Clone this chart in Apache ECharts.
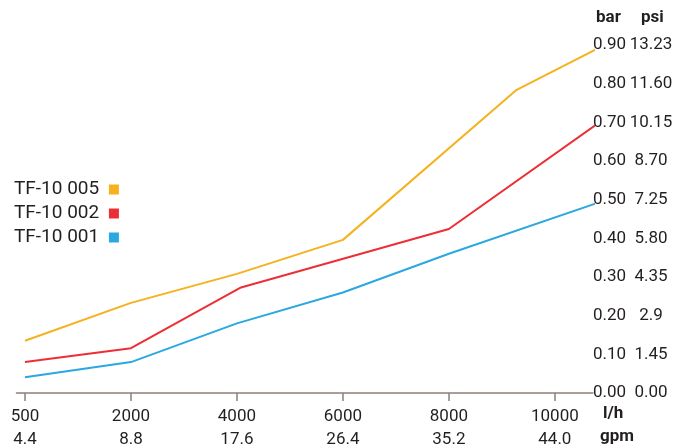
<!DOCTYPE html>
<html><head><meta charset="utf-8">
<script src="https://cdn.jsdelivr.net/npm/echarts@6/dist/echarts.min.js"></script>
<style>html,body{margin:0;padding:0;background:#fff}#c{width:675px;height:446px}</style>
</head><body><div id="c"></div>
<script>
// X tick labels (equally spaced ticks, index positions 0..5)
const tickLh = ['500', '2000', '4000', '6000', '8000', '10000'];
const tickGpm = ['4.4', '8.8', '17.6', '26.4', '35.2', '44.0'];
// Y tick labels
const barLabels = ['0.00','0.10','0.20','0.30','0.40','0.50','0.60','0.70','0.80','0.90'];
const psiLabels = ['0.00','1.45','2.9','4.35','5.80','7.25','8.70','10.15','11.60','13.23'];
// Series (x in tick-index units, y in bar)
const names = ['TF-10 005', 'TF-10 002', 'TF-10 001'];
const x005 = [0, 1, 2, 3, 4.64, 5.47];
const y005 = [0.135, 0.233, 0.308, 0.396, 0.784, 0.90];
const x002 = [0, 1, 2.03, 4.0, 5.42];
const y002 = [0.08, 0.116, 0.272, 0.424, 0.70];
const x001 = [0, 1, 2, 3, 4, 5.49];
const y001 = [0.041, 0.08, 0.18, 0.26, 0.36, 0.50];
const colors = ['#F5B21E', '#EC2F35', '#2AA8E0'];

const zip = (xs, ys) => xs.map((x, i) => [x, ys[i]]);
const FONT = 'Roboto';
const TXT = '#231f20';

const chart = echarts.init(document.getElementById('c'));
chart.setOption({
  animation: false,
  backgroundColor: '#fff',
  grid: { left: 16.5, right: 82, top: 45, bottom: 53, containLabel: false, outerBoundsMode: 'none' },
  legend: {
    orient: 'vertical', left: 14, top: 180, align: 'right',
    itemWidth: 10, itemHeight: 10, itemGap: 5, icon: 'rect', padding: 0,
    data: names,
    formatter: n => n + ' ',
    textStyle: { fontFamily: FONT, fontSize: 19, color: TXT, width: 95, align: 'right' }
  },
  xAxis: {
    type: 'value', min: -0.08, max: 5.36,
    axisLine: { show: true, lineStyle: { color: '#8c8079', width: 1.5 } },
    axisTick: { show: true, length: 8, customValues: [0,1,2,3,4,5], lineStyle: { color: '#8c8079', width: 1.5 } },
    splitLine: { show: false },
    axisLabel: {
      customValues: [0,1,2,3,4,5], margin: 12,
      fontFamily: FONT, fontSize: 17, color: TXT, lineHeight: 23,
      formatter: v => tickLh[v] + '\n' + tickGpm[v]
    }
  },
  yAxis: {
    type: 'value', position: 'right', min: 0, max: 0.9, interval: 0.1,
    axisLine: { show: false }, axisTick: { show: false }, splitLine: { show: false },
    axisLabel: {
      margin: 0, align: 'left',
      formatter: v => { const i = Math.round(v * 10); return '{b|' + barLabels[i] + '}{p|' + psiLabels[i] + '}'; },
      rich: {
        b: { fontFamily: FONT, fontSize: 17, color: TXT, width: 36, align: 'left' },
        p: { fontFamily: FONT, fontSize: 17, color: TXT, width: 44, align: 'center' }
      }
    }
  },
  graphic: [
    { type: 'text', left: 596, top: 9, style: { text: 'bar', font: 'bold 17px Roboto', fill: TXT } },
    { type: 'text', left: 641, top: 9, style: { text: 'psi', font: 'bold 17px Roboto', fill: TXT } },
    { type: 'text', left: 603, top: 405, style: { text: 'l/h', font: 'bold 17px Roboto', fill: TXT } },
    { type: 'text', left: 600, top: 428, style: { text: 'gpm', font: 'bold 17px Roboto', fill: TXT } }
  ],
  series: [
    { name: names[0], type: 'line', data: zip(x005, y005), color: colors[0], showSymbol: false, clip: false, lineStyle: { width: 2 } },
    { name: names[1], type: 'line', data: zip(x002, y002), color: colors[1], showSymbol: false, clip: false, lineStyle: { width: 2 } },
    { name: names[2], type: 'line', data: zip(x001, y001), color: colors[2], showSymbol: false, clip: false, lineStyle: { width: 2 } }
  ]
});
</script></body></html>
